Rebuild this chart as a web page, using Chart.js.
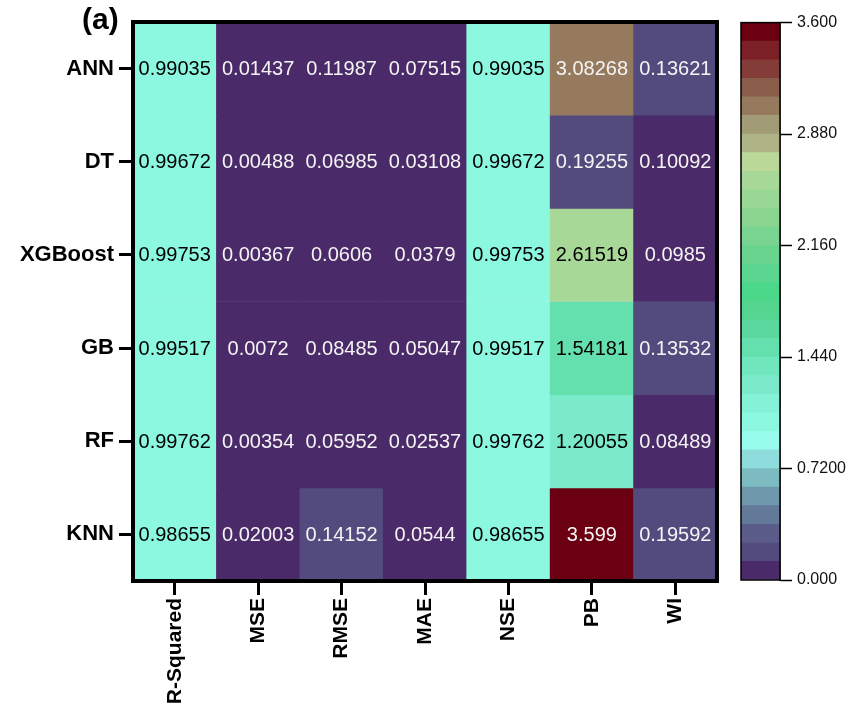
<!DOCTYPE html>
<html>
<head>
<meta charset="utf-8">
<script src="https://cdn.jsdelivr.net/npm/chart.js@4.4.1/dist/chart.umd.min.js"></script>
<style>
    body { margin: 0; background: #fff; }
    #wrap { position: relative; width: 849px; height: 715px; overflow: hidden; }
    #heat { position: absolute; left: 0; top: 0; }
    #bar { position: absolute; left: 735px; top: 8px; }
    #tag { position: absolute; left: 82px; top: 3px; font: bold 30px/32px Arial, "Liberation Sans", sans-serif; color: #000; }
</style>
</head>
<body>
<div id="wrap">
    <canvas id="heat" width="849" height="715"></canvas>
    <canvas id="bar" width="114" height="587"></canvas>
    <div id="tag">(a)</div>
</div>
<script>
const metrics = ['R-Squared', 'MSE', 'RMSE', 'MAE', 'NSE', 'PB', 'WI'];
const models = ['ANN', 'DT', 'XGBoost', 'GB', 'RF', 'KNN'];

const annVals = [0.99035, 0.01437, 0.11987, 0.07515, 0.99035, 3.08268, 0.13621];
const dtVals = [0.99672, 0.00488, 0.06985, 0.03108, 0.99672, 0.19255, 0.10092];
const xgbVals = [0.99753, 0.00367, 0.0606, 0.0379, 0.99753, 2.61519, 0.0985];
const gbVals = [0.99517, 0.0072, 0.08485, 0.05047, 0.99517, 1.54181, 0.13532];
const rfVals = [0.99762, 0.00354, 0.05952, 0.02537, 0.99762, 1.20055, 0.08489];
const knnVals = [0.98655, 0.02003, 0.14152, 0.0544, 0.98655, 3.599, 0.19592];
const rows = [annVals, dtVals, xgbVals, gbVals, rfVals, knnVals];

const cbMin = 0;
const cbMax = 3.6;
const cbTicks = [0, 0.72, 1.44, 2.16, 2.88, 3.6];
const cbTickLabels = ['0.000', '0.7200', '1.440', '2.160', '2.880', '3.600'];

// 30 discrete levels, bottom (0) to top (3.6)
const palette = [
    '#4a2a68', '#534a7e', '#5c5c8a', '#637a9a', '#6f98ac', '#7cbcc0', '#8edcdc', '#98fcec',
    '#8cf8e0', '#84f2d6', '#7aeaca', '#70e6bc', '#64e0ae', '#5ad89e', '#54d690', '#4cd88a',
    '#5ad690', '#68d48e', '#78d490', '#8ad690', '#98d894', '#a8d898', '#bad898', '#aeb486',
    '#a29c76', '#967a5e', '#8a5c4a', '#833c38', '#7a2026', '#6a0012'
];
const step = (cbMax - cbMin) / palette.length;

function colorFor(v) {
    let i = Math.floor((v - cbMin) / step + 1e-9);
    i = Math.max(0, Math.min(palette.length - 1, i));
    return palette[i];
}

function isLight(hex) {
    const r = parseInt(hex.slice(1, 3), 16), g = parseInt(hex.slice(3, 5), 16), b = parseInt(hex.slice(5, 7), 16);
    return (0.299 * r + 0.587 * g + 0.114 * b) > 150;
}

const FONT = 'Arial, "Liberation Sans", sans-serif';

const cellText = {
    id: 'cellText',
    afterDatasetsDraw(chart) {
        const ctx = chart.ctx;
        ctx.save();
        ctx.font = '20px ' + FONT;
        ctx.textAlign = 'center';
        ctx.textBaseline = 'middle';
        chart.data.datasets.forEach((ds, di) => {
            chart.getDatasetMeta(di).data.forEach((el, i) => {
                const v = ds.data[i].v;
                ctx.fillStyle = isLight(colorFor(v)) ? '#000' : '#f4f4f4';
                ctx.fillText(String(v), el.x, (el.y + el.base) / 2 + 1);
            });
        });
        ctx.restore();
    }
};

const frame = {
    id: 'frame',
    afterDraw(chart, args, opts) {
        const a = chart.chartArea;
        const ctx = chart.ctx;
        ctx.save();
        ctx.strokeStyle = '#000';
        ctx.lineWidth = opts.width;
        ctx.strokeRect(a.left, a.top, a.right - a.left, a.bottom - a.top);
        ctx.restore();
    }
};

new Chart(document.getElementById('heat'), {
    type: 'bar',
    data: {
        labels: metrics,
        datasets: rows.map((vals, r) => ({
            label: models[r],
            data: metrics.map((m, c) => ({ x: m, y: [r, r + 1], v: vals[c] })),
            backgroundColor: ctx => colorFor(ctx.raw.v),
            borderWidth: 0,
            grouped: false,
            barPercentage: 1,
            categoryPercentage: 1
        }))
    },
    options: {
        responsive: false,
        animation: false,
        layout: { padding: { left: 0, top: 22, right: 132, bottom: 0 } },
        plugins: {
            legend: { display: false },
            tooltip: { enabled: false },
            frame: { width: 4 }
        },
        scales: {
            x: {
                grid: { offset: false, drawOnChartArea: false, drawTicks: true, tickLength: 14, tickWidth: 3, tickColor: '#000', color: '#000' },
                border: { display: true, width: 4, color: '#000' },
                ticks: { color: '#000', font: { family: FONT, size: 21, weight: 'bold' }, minRotation: 90, maxRotation: 90, padding: 3 },
                afterFit: s => { s.height = 134; }
            },
            y: {
                type: 'linear',
                reverse: true,
                min: 0,
                max: models.length,
                afterBuildTicks: s => { s.ticks = models.map((m, i) => ({ value: i + 0.5 })); },
                grid: { drawOnChartArea: false, drawTicks: true, tickLength: 14, tickWidth: 3, tickColor: '#000', color: '#000' },
                border: { display: true, width: 4, color: '#000' },
                ticks: {
                    color: '#000',
                    font: { family: FONT, size: 22, weight: 'bold' },
                    padding: 5,
                    callback: (v, i) => models[i]
                },
                afterFit: s => { s.width = 133; }
            }
        }
    },
    plugins: [cellText, frame]
});

new Chart(document.getElementById('bar'), {
    type: 'bar',
    data: {
        labels: [''],
        datasets: palette.map((col, i) => ({
            data: [[cbMin + i * step, cbMin + (i + 1) * step]],
            backgroundColor: col,
            borderWidth: 0,
            grouped: false,
            barPercentage: 1,
            categoryPercentage: 1
        }))
    },
    options: {
        responsive: false,
        animation: false,
        layout: { padding: { left: 6, top: 14, right: 0, bottom: 15 } },
        plugins: {
            legend: { display: false },
            tooltip: { enabled: false },
            frame: { width: 1.5 }
        },
        scales: {
            x: { display: false },
            y: {
                position: 'right',
                min: cbMin,
                max: cbMax,
                afterBuildTicks: s => { s.ticks = cbTicks.map(v => ({ value: v })); },
                grid: { drawOnChartArea: false, drawTicks: true, tickLength: 12, tickWidth: 1.5, tickColor: '#000', color: '#000' },
                border: { display: true, width: 1.5, color: '#000' },
                ticks: {
                    color: '#111',
                    font: { family: FONT, size: 16 },
                    padding: 5,
                    callback: (v, i) => cbTickLabels[i]
                },
                afterFit: s => { s.width = 69; }
            }
        }
    },
    plugins: [frame]
});
</script>
</body>
</html>
